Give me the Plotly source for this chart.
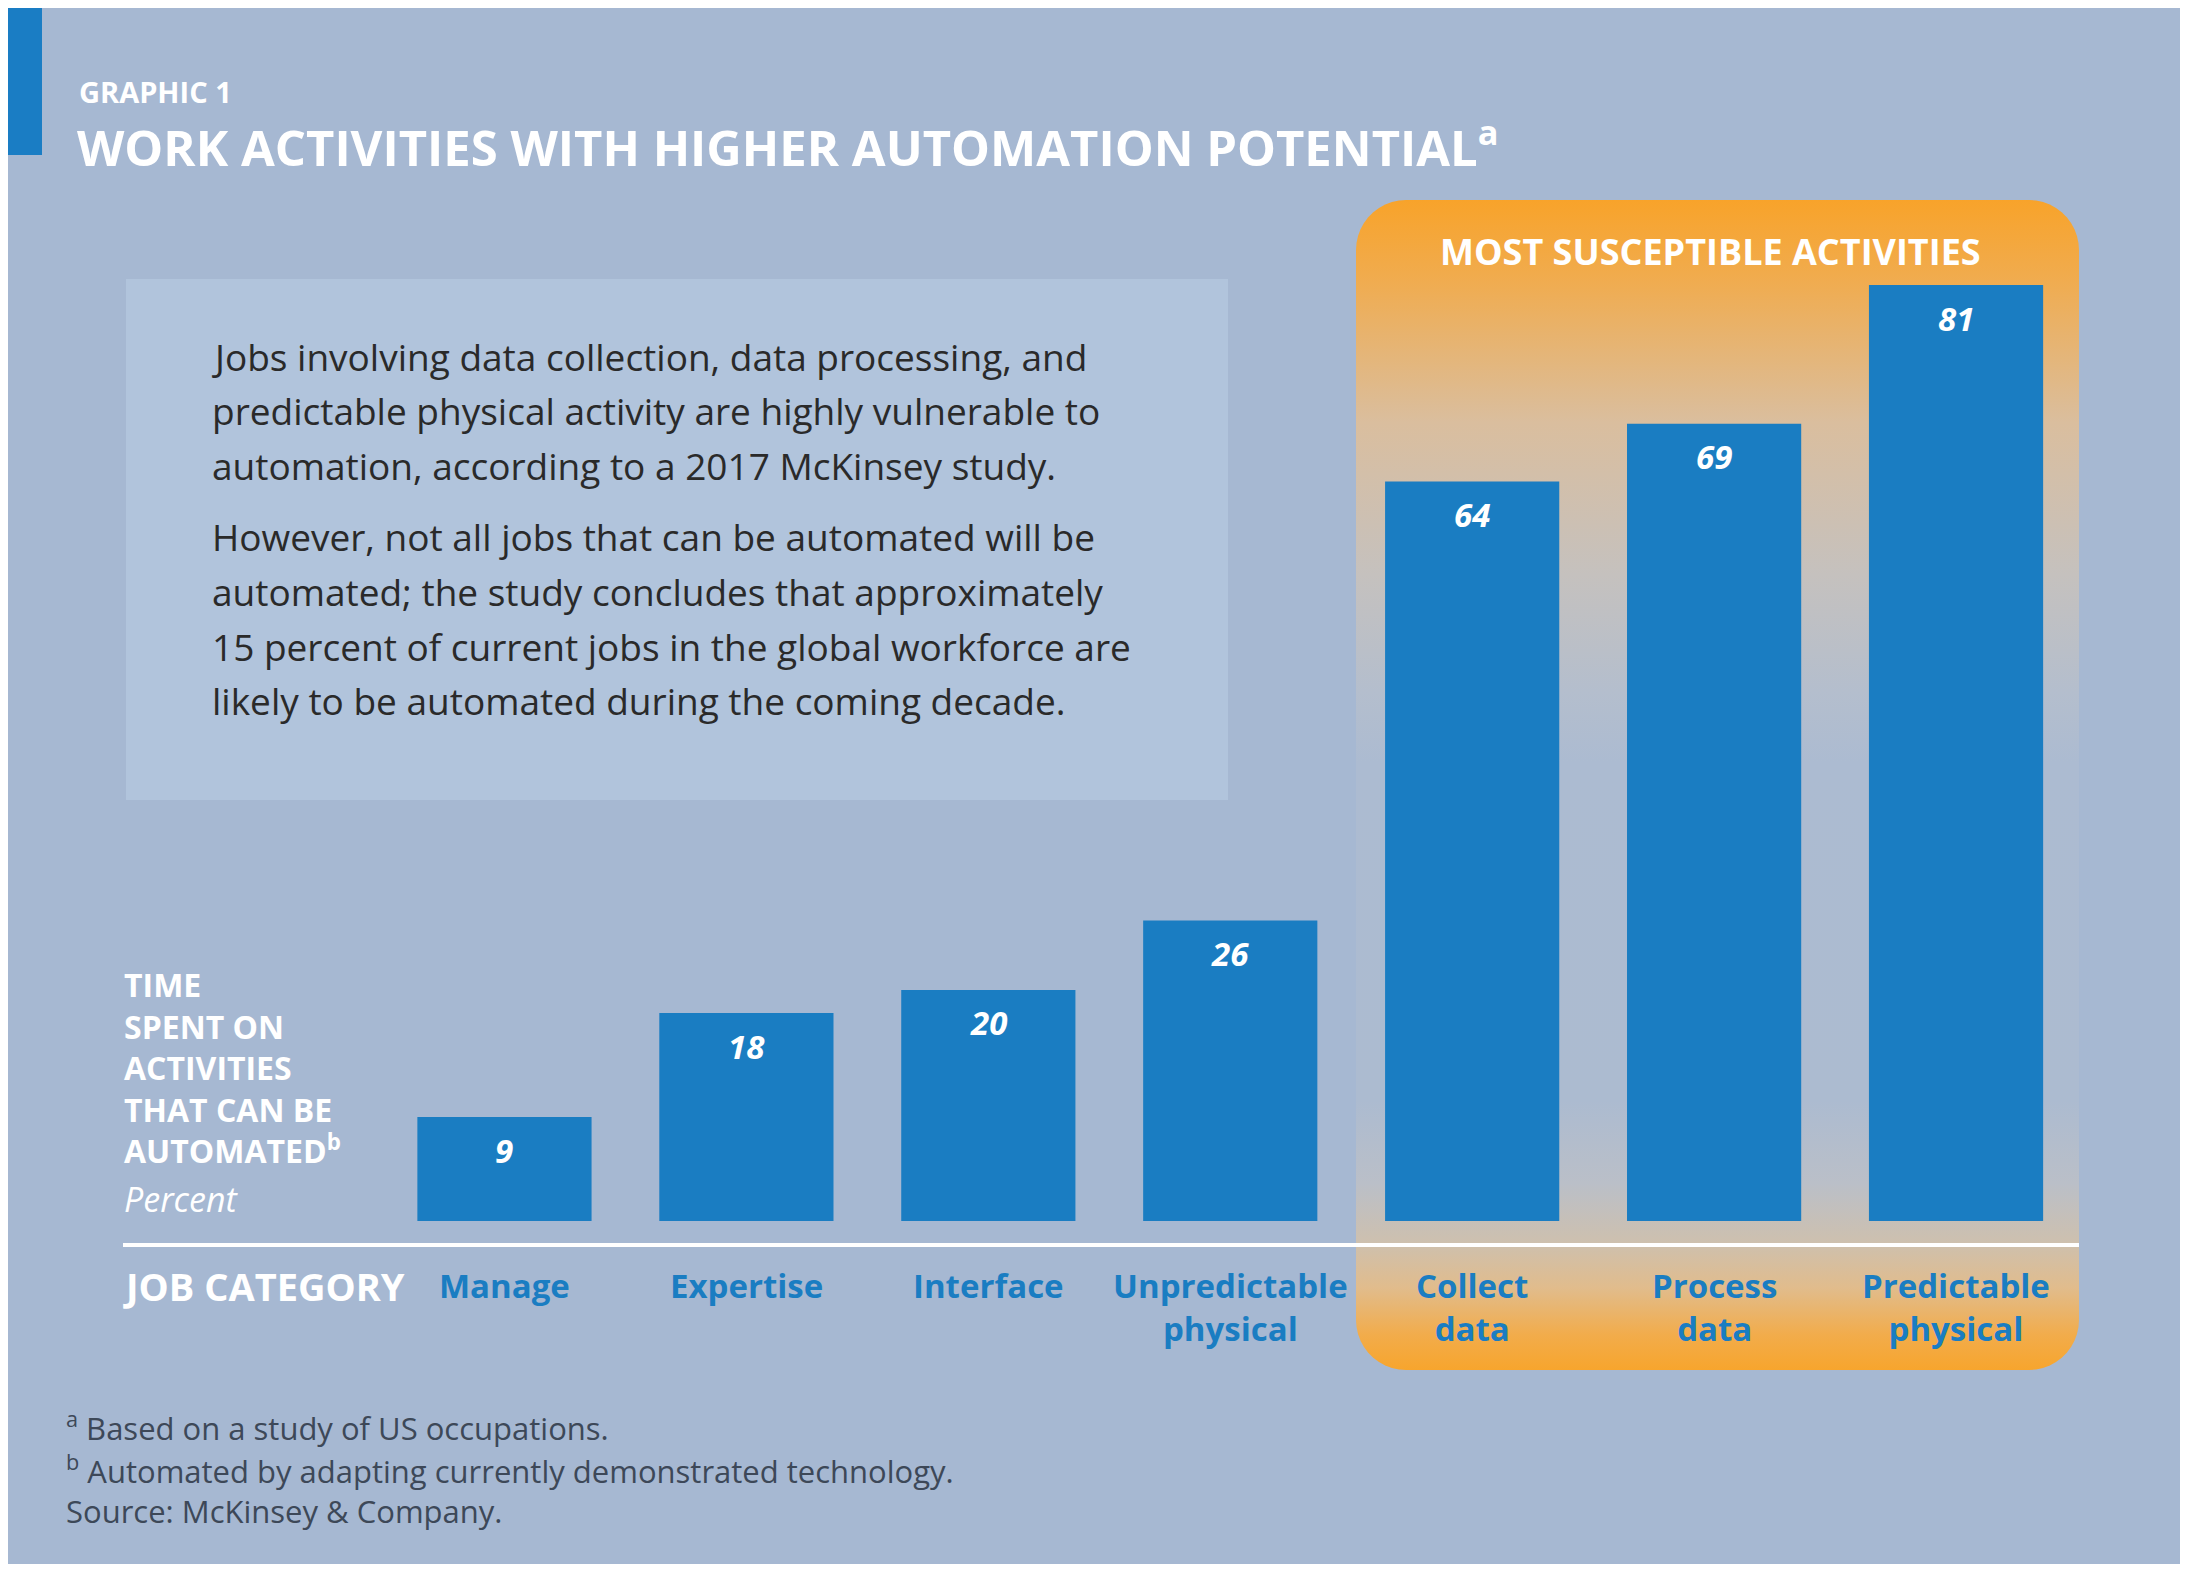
import numpy as np
import plotly.graph_objects as go

# ---------------- data ----------------
categories = ["Manage", "Expertise", "Interface", "Unpredictable physical",
              "Collect data", "Process data", "Predictable physical"]
tick_labels = ["Manage", "Expertise", "Interface", "Unpredictable<br>physical",
               "Collect<br>data", "Process<br>data", "Predictable<br>physical"]
values = [9, 18, 20, 26, 64, 69, 81]

title_small = "GRAPHIC 1"
title_main = "WORK ACTIVITIES WITH HIGHER AUTOMATION POTENTIAL<sup>a</sup>"
highlight_label = "MOST SUSCEPTIBLE ACTIVITIES"
y_label = "TIME<br>SPENT ON<br>ACTIVITIES<br>THAT CAN BE<br>AUTOMATED<sup>b</sup>"
y_unit = "Percent"
x_label = "JOB CATEGORY"
paragraph_1 = ["Jobs involving data collection, data processing, and",
               "predictable physical activity are highly vulnerable to",
               "automation, according to a 2017 McKinsey study."]
paragraph_2 = ["However, not all jobs that can be automated will be",
               "automated; the study concludes that approximately",
               "15 percent of current jobs in the global workforce are",
               "likely to be automated during the coming decade."]
footnotes = ["<sup>a</sup> Based on a study of US occupations.",
             "<sup>b</sup> Automated by adapting currently demonstrated technology.",
             "Source: McKinsey & Company."]

# ---------------- style ----------------
W, H = 2188, 1574
OFF = 8          # page body margin compensation
BG = "#a6b8d2"
BOX = "#b1c4dc"
BLUE = "#1a7dc2"
WHITE = "#ffffff"
TEXT = "#2a2a2a"
FOOT = "#3d4858"
FONT = "Open Sans"


def px(x):
    return (x - OFF) / W


def py(y):
    return 1 - (y - OFF) / H


def ax_x(x):
    return x - OFF


def ax_y(y):
    return y - OFF


fig = go.Figure()

# ---- decorative rounded, gradient-filled highlight panel (pixel axes) ----
bx0, bx1, by0, by1, r = 1356, 2079, 200, 1370, 50
t = np.linspace(0, np.pi / 2, 12)
path_x = np.concatenate([
    bx0 + r - r * np.cos(t),
    bx1 - r + r * np.sin(t),
    bx1 - r + r * np.cos(t),
    bx0 + r - r * np.sin(t),
])
path_y = np.concatenate([
    by0 + r - r * np.sin(t),
    by0 + r - r * np.cos(t),
    by1 - r + r * np.sin(t),
    by1 - r + r * np.cos(t),
])
fig.add_trace(go.Scatter(
    x=ax_x(path_x), y=ax_y(path_y), mode="lines", line=dict(width=0),
    fill="toself",
    fillgradient=dict(
        type="vertical", start=ax_y(by0), stop=ax_y(by1),
        colorscale=[
            [0.00, "rgb(248,163,42)"],
            [0.07, "rgb(240,172,80)"],
            [0.19, "rgb(218,190,158)"],
            [0.32, "rgb(197,193,190)"],
            [0.42, "rgb(180,190,205)"],
            [0.48, "rgb(172,187,209)"],
            [0.77, "rgb(172,187,208)"],
            [0.84, "rgb(186,191,200)"],
            [0.89, "rgb(205,192,175)"],
            [0.93, "rgb(225,188,140)"],
            [0.97, "rgb(242,172,75)"],
            [1.00, "rgb(247,165,45)"],
        ]),
    hoverinfo="skip", showlegend=False, xaxis="x", yaxis="y",
))

# ---- bars ----
fig.add_trace(go.Bar(
    x=categories, y=values, marker=dict(color=BLUE, line=dict(width=0)),
    xaxis="x2", yaxis="y2", showlegend=False, hoverinfo="x+y",
))

annotations = []
for c, v in zip(categories, values):
    annotations.append(dict(
        x=c, y=v, xref="x2", yref="y2", yshift=-33, showarrow=False,
        text=str(v), yanchor="middle", xanchor="center",
        font=dict(family=FONT, size=33, color=WHITE, weight="bold", style="italic"),
    ))

# category labels
for c, lab in zip(categories, tick_labels):
    annotations.append(dict(x=c, y=py(1261), xref="x2", yref="paper",
                            xanchor="center", yanchor="top", showarrow=False,
                            text=lab, align="center",
                            font=dict(family=FONT, size=33, color=BLUE, weight="bold")))

# ---- texts ----
annotations.append(dict(x=px(77), y=py(91), xref="paper", yref="paper",
                        xanchor="left", yanchor="middle", showarrow=False,
                        text=title_small,
                        font=dict(family=FONT, size=29, color=WHITE, weight="bold")))
annotations.append(dict(x=px(75), y=py(144), xref="paper", yref="paper",
                        xanchor="left", yanchor="middle", showarrow=False,
                        text=title_main,
                        font=dict(family=FONT, size=49, color=WHITE, weight="bold")))
annotations.append(dict(x=px(1710), y=py(251), xref="paper", yref="paper",
                        xanchor="center", yanchor="middle", showarrow=False,
                        text=highlight_label,
                        font=dict(family=FONT, size=36, color=WHITE, weight="bold")))

para_y = [356, 410, 465, 536, 592, 646, 700]
for line, yy in zip(paragraph_1 + paragraph_2, para_y):
    annotations.append(dict(x=px(210), y=py(yy), xref="paper", yref="paper",
                            xanchor="left", yanchor="middle", showarrow=False,
                            text=line,
                            font=dict(family=FONT, size=37, color=TEXT)))

annotations.append(dict(x=px(122), y=py(961), xref="paper", yref="paper",
                        xanchor="left", yanchor="top", showarrow=False, align="left",
                        text=y_label,
                        font=dict(family=FONT, size=32, color=WHITE, weight="bold")))
annotations.append(dict(x=px(122), y=py(1199), xref="paper", yref="paper",
                        xanchor="left", yanchor="middle", showarrow=False,
                        text=y_unit,
                        font=dict(family=FONT, size=34, color=WHITE, style="italic")))
annotations.append(dict(x=px(121), y=py(1286), xref="paper", yref="paper",
                        xanchor="left", yanchor="middle", showarrow=False,
                        text=x_label,
                        font=dict(family=FONT, size=38, color=WHITE, weight="bold")))

for line, yy in zip(footnotes, [1426, 1469, 1511]):
    annotations.append(dict(x=px(64), y=py(yy), xref="paper", yref="paper",
                            xanchor="left", yanchor="middle", showarrow=False,
                            text=line,
                            font=dict(family=FONT, size=31, color=FOOT)))

# ---- shapes ----
shapes = [
    dict(type="rect", xref="paper", yref="paper", x0=px(4), x1=px(2180),
         y0=py(7), y1=py(1564), fillcolor=BG, line=dict(width=0), layer="below"),
    dict(type="rect", xref="paper", yref="paper", x0=px(6), x1=px(42),
         y0=py(7), y1=py(155), fillcolor="#1a7dc4", line=dict(width=0), layer="below"),
    dict(type="rect", xref="paper", yref="paper", x0=px(126), x1=px(1228),
         y0=py(279), y1=py(800), fillcolor=BOX, line=dict(width=0), layer="below"),
    dict(type="line", xref="paper", yref="paper", x0=px(123), x1=px(2079),
         y0=py(1245), y1=py(1245), line=dict(color=WHITE, width=4), layer="above"),
]

# bar axis geometry
base_px = 1221
unit_px = 936 / 81
ymax = 90
top_px = base_px - ymax * unit_px

fig.update_layout(
    width=W, height=H,
    margin=dict(l=0, r=0, t=0, b=0),
    paper_bgcolor="white", plot_bgcolor="rgba(0,0,0,0)",
    showlegend=False,
    bargap=0.28,
    font=dict(family=FONT),
    xaxis=dict(domain=[0, 1], range=[0, W], visible=False, fixedrange=True),
    yaxis=dict(domain=[0, 1], range=[H, 0], visible=False, fixedrange=True),
    xaxis2=dict(domain=[px(383.5), px(2077)], range=[-0.5, 6.5], anchor="y2",
                visible=False, fixedrange=True),
    yaxis2=dict(domain=[py(base_px), py(top_px)], range=[0, ymax], anchor="x2",
                visible=False, fixedrange=True),
    shapes=shapes,
    annotations=annotations,
)

fig.write_html("out.html")
